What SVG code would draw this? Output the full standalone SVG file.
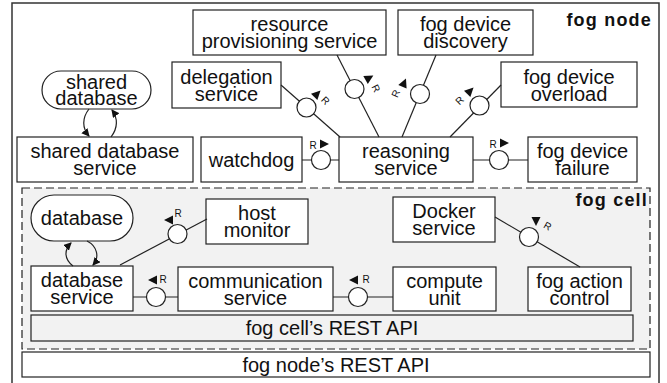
<svg xmlns="http://www.w3.org/2000/svg" xmlns:xlink="http://www.w3.org/1999/xlink" width="667" height="383" viewBox="0 0 667 383">
<style>
.box{fill:#fff;stroke:#222;stroke-width:1.2}
.cell{fill:#f2f2f2;stroke:#222;stroke-width:1.2;stroke-dasharray:8 4}
.api{fill:#f2f2f2;stroke:#222;stroke-width:1.2}
.t{font-family:"Liberation Sans",Arial,sans-serif;font-size:20px;fill:#111;text-anchor:middle}
.b{font-family:"Liberation Sans",Arial,sans-serif;font-size:18px;font-weight:bold;fill:#111;text-anchor:end;letter-spacing:1.2px}
.r{font-family:"Liberation Sans",Arial,sans-serif;font-size:10px;fill:#111;text-anchor:middle}
.ln{fill:none;stroke:#222;stroke-width:1.2}
.iface{fill:#fff;stroke:#222;stroke-width:1.2}
.tri{fill:#111}
</style>
<defs>
<path id="tri" d="M-4,-4.5 L5,0 L-4,4.5 Z"/>
<marker id="ah" markerWidth="8" markerHeight="8" refX="7" refY="4" orient="auto" markerUnits="userSpaceOnUse">
<path d="M0,0 L8,4 L0,8 Z" fill="#111"/>
</marker>
</defs>

<path d="M12,392 V3 H659 V392" fill="none" stroke="#333" stroke-width="1.5"/>
<text class="b" x="652" y="26">fog node</text>

<g id="fog-cell">
<rect class="cell" x="22" y="188" width="628" height="161"/>
<text class="b" x="648" y="206">fog cell</text>
</g>

<g id="shared-database">
<rect class="box" x="42" y="71" width="109" height="38" rx="19" ry="19"/>
<text class="t" x="96.5" y="88.5">shared</text>
<text class="t" x="96.5" y="105">database</text>
</g>
<g id="shared-database-service">
<rect class="box" x="17" y="137" width="176" height="45"/>
<text class="t" x="105" y="158">shared database</text>
<text class="t" x="105" y="175">service</text>
</g>
<g id="watchdog">
<rect class="box" x="201" y="137" width="101" height="45"/>
<text class="t" x="251.5" y="166.5">watchdog</text>
</g>
<g id="reasoning-service">
<rect class="box" x="339" y="137" width="134" height="45"/>
<text class="t" x="406" y="158">reasoning</text>
<text class="t" x="406" y="175">service</text>
</g>
<g id="delegation-service">
<rect class="box" x="172" y="62" width="109" height="46"/>
<text class="t" x="226.5" y="83.5">delegation</text>
<text class="t" x="226.5" y="100.5">service</text>
</g>
<g id="resource-provisioning-service">
<rect class="box" x="193" y="10" width="193" height="45"/>
<text class="t" x="289.5" y="31">resource</text>
<text class="t" x="289.5" y="48">provisioning service</text>
</g>
<g id="fog-device-discovery">
<rect class="box" x="398" y="10" width="135" height="45"/>
<text class="t" x="465.5" y="31">fog device</text>
<text class="t" x="465.5" y="48">discovery</text>
</g>
<g id="fog-device-overload">
<rect class="box" x="501" y="62" width="136" height="45"/>
<text class="t" x="569" y="83.5">fog device</text>
<text class="t" x="569" y="100.5">overload</text>
</g>
<g id="fog-device-failure">
<rect class="box" x="528" y="137" width="109" height="45"/>
<text class="t" x="582.5" y="158">fog device</text>
<text class="t" x="582.5" y="175">failure</text>
</g>

<g id="database">
<rect class="box" x="31" y="195" width="102" height="46" rx="23" ry="23"/>
<text class="t" x="82" y="225">database</text>
</g>
<g id="database-service">
<rect class="box" x="31" y="266" width="102" height="45"/>
<text class="t" x="82" y="287">database</text>
<text class="t" x="82" y="304">service</text>
</g>
<g id="host-monitor">
<rect class="box" x="206" y="199" width="102" height="45"/>
<text class="t" x="257" y="220">host</text>
<text class="t" x="257" y="237">monitor</text>
</g>
<g id="communication-service">
<rect class="box" x="178" y="267" width="155" height="44"/>
<text class="t" x="255.5" y="287.5">communication</text>
<text class="t" x="255.5" y="304.5">service</text>
</g>
<g id="compute-unit">
<rect class="box" x="393" y="267" width="103" height="44"/>
<text class="t" x="444.5" y="287.5">compute</text>
<text class="t" x="444.5" y="304.5">unit</text>
</g>
<g id="docker-service">
<rect class="box" x="393" y="197" width="102" height="45"/>
<text class="t" x="444" y="218">Docker</text>
<text class="t" x="444" y="235">service</text>
</g>
<g id="fog-action-control">
<rect class="box" x="528" y="267" width="103" height="44"/>
<text class="t" x="579.5" y="287.5">fog action</text>
<text class="t" x="579.5" y="304.5">control</text>
</g>
<g id="fog-cell-rest-api">
<rect class="api" x="31" y="315" width="602" height="26"/>
<text class="t" x="332" y="334.5">fog cell’s REST API</text>
</g>
<g id="fog-node-rest-api">
<rect class="box" x="22" y="352" width="628" height="25"/>
<text class="t" x="336" y="371.5">fog node’s REST API</text>
</g>

<g id="connectors">
<path class="ln" d="M89,109 C82,118 82,128 89,136" marker-end="url(#ah)"/>
<path class="ln" d="M111,137 C118,128 118,118 112,110" marker-end="url(#ah)"/>
<path class="ln" d="M73,266 C64,259 64,250 71,243" marker-end="url(#ah)"/>
<path class="ln" d="M87,241 C97,246 100,257 93,265" marker-end="url(#ah)"/>

<line class="ln" x1="302" y1="160" x2="339" y2="160"/>
<circle class="iface" cx="321" cy="160" r="9.5"/>
<text class="r" x="313" y="149">R</text>
<use xlink:href="#tri" class="tri" transform="translate(324,144)"/>

<line class="ln" x1="473" y1="160" x2="528" y2="160"/>
<circle class="iface" cx="499" cy="160" r="9.5"/>
<text class="r" x="493" y="148">R</text>
<use xlink:href="#tri" class="tri" transform="translate(504,143)"/>

<line class="ln" x1="281" y1="85" x2="340" y2="137"/>
<circle class="iface" cx="306.5" cy="107.5" r="9.5"/>
<use xlink:href="#tri" class="tri" transform="translate(317,94) rotate(-45)"/>
<text class="r" transform="translate(323,103) rotate(45)">R</text>

<line class="ln" x1="337" y1="55" x2="379" y2="137"/>
<circle class="iface" cx="354.5" cy="89" r="9.5"/>
<use xlink:href="#tri" class="tri" transform="translate(369,78) rotate(-30)"/>
<text class="r" transform="translate(373,90) rotate(63)">R</text>

<line class="ln" x1="436" y1="55" x2="402" y2="137"/>
<circle class="iface" cx="420" cy="94" r="9.5"/>
<use xlink:href="#tri" class="tri" transform="translate(404,83) rotate(-67)"/>
<text class="r" transform="translate(399,95) rotate(-67)">R</text>

<line class="ln" x1="501" y1="85" x2="450" y2="137"/>
<circle class="iface" cx="479.5" cy="105.5" r="9.5"/>
<use xlink:href="#tri" class="tri" transform="translate(470,91) rotate(-45)"/>
<text class="r" transform="translate(462,103) rotate(-45)">R</text>

<line class="ln" x1="120" y1="265" x2="207" y2="219"/>
<circle class="iface" cx="177.5" cy="234" r="9.5"/>
<use xlink:href="#tri" class="tri" transform="translate(169,220) rotate(180)"/>
<text class="r" x="178" y="217">R</text>

<line class="ln" x1="133" y1="297" x2="178" y2="297"/>
<circle class="iface" cx="156" cy="297" r="9.5"/>
<use xlink:href="#tri" class="tri" transform="translate(153,280) rotate(180)"/>
<text class="r" x="163" y="283">R</text>

<line class="ln" x1="333" y1="297" x2="393" y2="297"/>
<circle class="iface" cx="358" cy="297" r="9.5"/>
<use xlink:href="#tri" class="tri" transform="translate(354,280) rotate(180)"/>
<text class="r" x="366" y="283">R</text>

<line class="ln" x1="495" y1="217" x2="580" y2="267"/>
<circle class="iface" cx="529" cy="237" r="9.5"/>
<use xlink:href="#tri" class="tri" transform="translate(536,221) rotate(90)"/>
<text class="r" transform="translate(546,229) rotate(30)">R</text>
</g>
</svg>
